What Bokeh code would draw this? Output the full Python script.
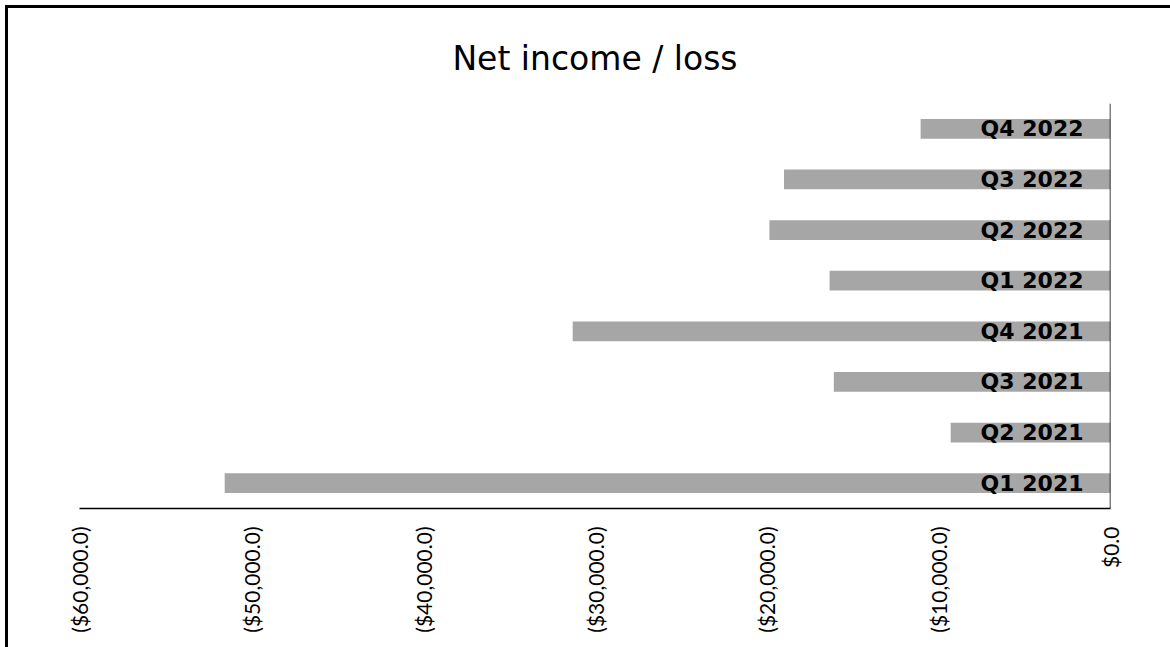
import math
from bokeh.plotting import figure
from bokeh.models import (ColumnDataSource, FactorRange, Range1d, FixedTicker,
                          CustomJSTickFormatter, Span)
from bokeh.core.properties import value
from bokeh.embed import file_html
from bokeh.resources import INLINE

# Quarterly net income / loss (USD)
quarters = ["Q1 2021", "Q2 2021", "Q3 2021", "Q4 2021",
            "Q1 2022", "Q2 2022", "Q3 2022", "Q4 2022"]
net_income = [-51550, -9300, -16100, -31300,
              -16350, -19850, -19000, -11050]
tick_values = [-60000, -50000, -40000, -30000, -20000, -10000, 0]

source = ColumnDataSource(dict(q=quarters, v=net_income))

p = figure(width=1170, height=647, output_backend="svg", toolbar_location=None,
           x_range=Range1d(-60000, 0), y_range=FactorRange(factors=quarters),
           min_border_left=79, min_border_right=60,
           min_border_top=103, min_border_bottom=139,
           background_fill_color="white")
p.border_fill_alpha = 0
p.outline_line_color = None
p.xgrid.visible = False
p.ygrid.visible = False
p.yaxis.visible = False

# page frame along the top and left edges
p.styles = {"background-color": "white",
            "box-shadow": "inset 5px 5px 0 0 white, inset 8px 8px 0 0 black"}

# title
p.title.text = "Net income / loss"
p.title.align = "center"
p.title.text_font = "DejaVu Sans"
p.title.text_font_style = "normal"
p.title.text_font_size = "33px"
p.title.text_color = "black"
p.title.standoff = 52

# bars
p.hbar(y="q", left="v", right=0, height=0.39, source=source,
       fill_color="#a6a6a6", line_color=None)

# category labels inside the bars
p.text(x=0, y="q", text="q", source=source, x_offset=-27,
       text_align="right", text_baseline="middle",
       text_font=value("DejaVu Sans"), text_font_style="bold",
       text_font_size="22px", text_color="black")

# value axis
ax = p.xaxis[0]
ax.ticker = FixedTicker(ticks=tick_values)
ax.formatter = CustomJSTickFormatter(code="""
    const s = Math.abs(tick).toLocaleString('en-US',
        {minimumFractionDigits: 1, maximumFractionDigits: 1});
    return tick < 0 ? '($' + s + ')' : '$' + s;
""")
ax.major_label_orientation = math.pi / 2
ax.major_label_text_font = "Lato"
ax.major_label_text_font_size = "21px"
ax.major_label_text_color = "black"
ax.major_label_standoff = 12
ax.major_tick_line_color = None
ax.minor_tick_line_color = None
ax.axis_line_color = "black"
ax.axis_line_width = 1.5

# zero line on the right
p.add_layout(Span(location=0, dimension="height", line_color="black",
                  line_width=1.5))

open("out.html", "w").write(file_html(p, INLINE))
